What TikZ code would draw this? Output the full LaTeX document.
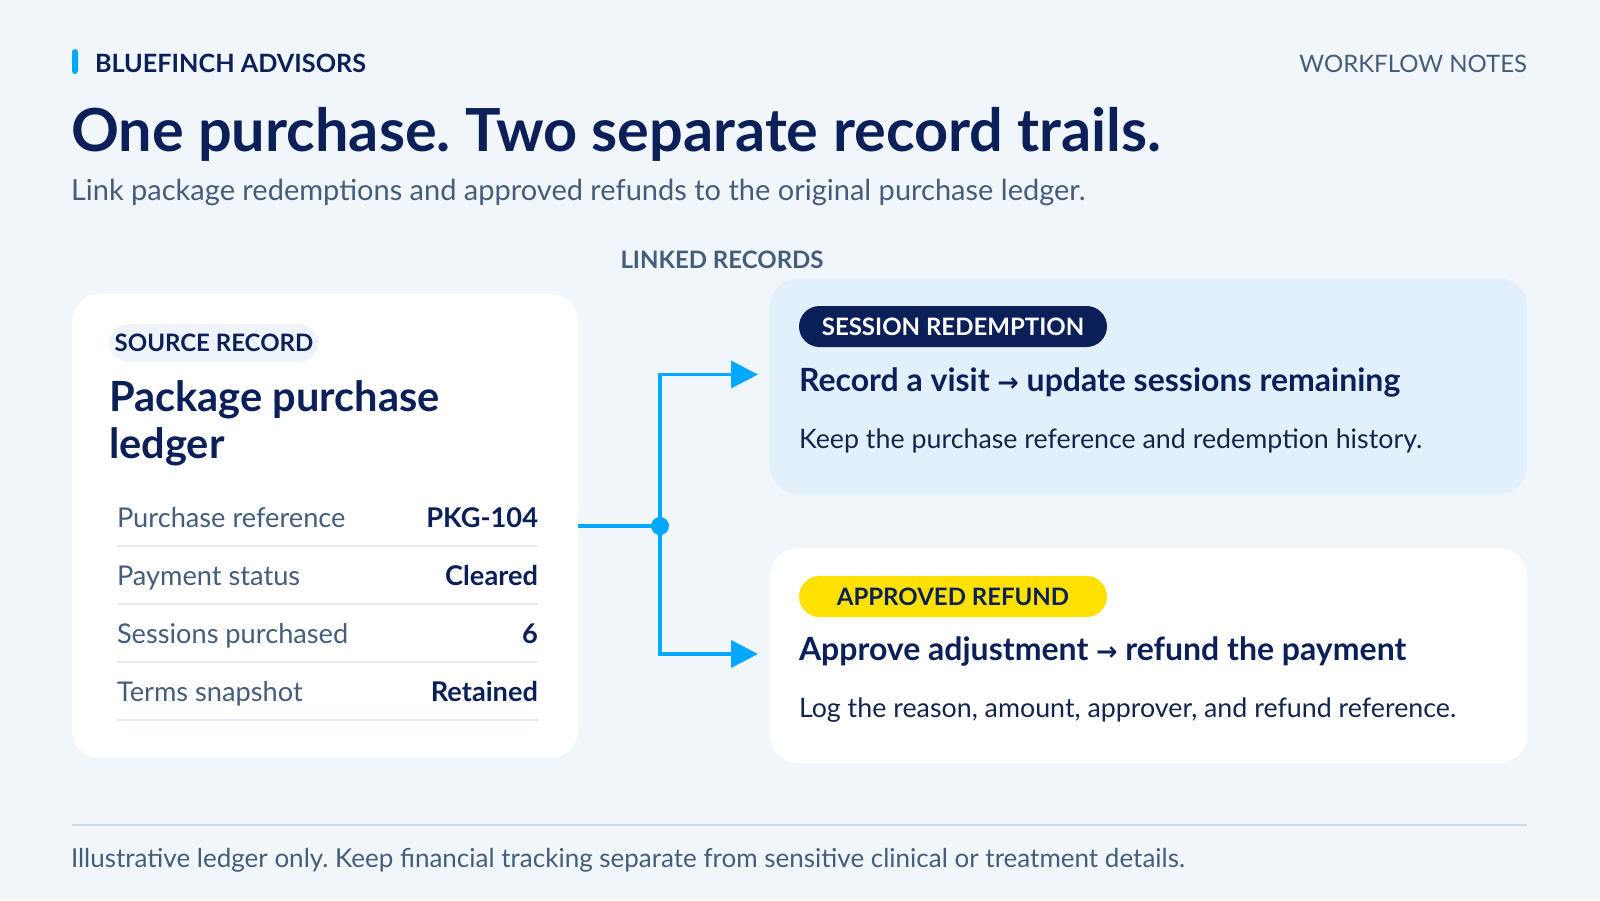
\documentclass[tikz,border=0pt]{standalone}
\usepackage{fontspec}
\setmainfont{Lato}
\newfontfamily\arrowfont{DejaVu Sans}
\usetikzlibrary{arrows.meta}
\definecolor{navy}{HTML}{0B2059}
\definecolor{slate}{HTML}{435D7A}
\definecolor{accent}{HTML}{00A8FF}
\definecolor{bg}{HTML}{F1F6FB}
\definecolor{cardblue}{HTML}{E2F0FC}
\definecolor{pilllight}{HTML}{EEF4FA}
\definecolor{sepline}{HTML}{E3ECF5}
\definecolor{pillyellow}{HTML}{FFE100}
\definecolor{rulecol}{HTML}{C9DCEC}
\definecolor{bodytext}{HTML}{14254D}
\newcommand{\fs}[1]{\fontsize{#1pt}{#1pt}\selectfont}
\newcommand{\arr}{{\arrowfont\scalebox{0.8}{→}}}
\frenchspacing
\begin{document}
\begin{tikzpicture}[x=0.5pt,y=-0.5pt,
  every node/.style={inner sep=0pt, outer sep=0pt},
  txt/.style={anchor=base west},
  card/.style={anchor=north west, rounded corners=14pt},
  pill/.style={rounded corners=10.25pt, minimum width=154pt, minimum height=20.5pt},
  conn/.style={draw=accent, line width=1.8pt},
  sep/.style={draw=sepline, line width=1pt},
  lbl/.style={anchor=base west, text=slate, font=\fs{13.6}},
  val/.style={anchor=base east, text=navy, font=\fs{13.6}\bfseries},
  ctitle/.style={anchor=base west, text=navy, font=\fs{16}\bfseries},
  cbody/.style={anchor=base west, text=bodytext, font=\fs{13.4}},
  pilltxt/.style={font=\fs{12}\bfseries}
]
\fill[bg] (0,0) rectangle (1600,900);
\useasboundingbox (0,0) rectangle (1600,900);

% header
\node[fill=accent, rounded corners=1.5pt, minimum width=3pt, minimum height=12.5pt, anchor=north west] (bar) at (72,49) {};
\node[txt, text=navy, font=\fs{12.6}\bfseries] (brand) at (95,72) {BLUEFINCH ADVISORS};
\node[anchor=base east, text=slate, font=\fs{12}] (notes) at (1527,72) {WORKFLOW NOTES};
\node[txt, text=navy, font=\fs{29.7}\bfseries] (title) at (71,151) {One purchase. Two separate record trails.};
\node[txt, text=slate, font=\fs{14.5}] (subtitle) at (71,200) {Link package redemptions and approved refunds to the original purchase ledger.};
\node[anchor=base, text=slate, font=\fs{12}\bfseries] (linked) at (722,268) {LINKED RECORDS};

% source card
\node[card, fill=white, minimum width=253pt, minimum height=232pt] (src) at (72,294) {};
\node[pill, fill=pilllight, minimum width=105pt, minimum height=19pt] (srcpill) at (214,343) {};
\node[pilltxt, text=navy] (srcpilltxt) at (srcpill) {SOURCE RECORD};
\node[txt, text=navy, font=\fs{20.8}\bfseries] (pkg1) at (109,411) {Package purchase};
\node[txt, text=navy, font=\fs{20.8}\bfseries] (pkg2) at (109,458) {ledger};

\node[lbl] (l1) at (117,527) {Purchase reference};
\node[val] (v1) at (538,527) {PKG-104};
\node[lbl] (l2) at (117,585) {Payment status};
\node[val] (v2) at (538,585) {Cleared};
\node[lbl] (l3) at (117,643) {Sessions purchased};
\node[val] (v3) at (538,643) {6};
\node[lbl] (l4) at (117,701) {Terms snapshot};
\node[val] (v4) at (538,701) {Retained};
\draw[sep] (117,546) -- (538,546);
\draw[sep] (117,604) -- (538,604);
\draw[sep] (117,662) -- (538,662);
\draw[sep] (117,720) -- (538,720);

% session card
\node[card, fill=cardblue, minimum width=378.5pt, minimum height=107.75pt] (sess) at (770,278.5) {};
\node[pill, fill=navy] (sesspill) at (953,326.5) {};
\node[pilltxt, text=white] (sesspilltxt) at (sesspill) {SESSION REDEMPTION};
\node[ctitle] (sesstitle) at (799,391) {Record a visit \arr{} update sessions remaining};
\node[cbody] (sessbody) at (799,448) {Keep the purchase reference and redemption history.};

% refund card
\node[card, fill=white, minimum width=378.5pt, minimum height=107.5pt] (ref) at (770,548) {};
\node[pill, fill=pillyellow] (refpill) at (953,596.5) {};
\node[pilltxt, text=navy] (refpilltxt) at (refpill) {APPROVED REFUND};
\node[ctitle] (reftitle) at (799,660) {Approve adjustment \arr{} refund the payment};
\node[cbody] (refbody) at (799,717) {Log the reason, amount, approver, and refund reference.};

% connectors
\coordinate (j) at (660,526);
\coordinate (t1) at (758,374.5);
\coordinate (t2) at (758,654);
\draw[conn] (src.east |- j) -- (j);
\draw[conn, -{Triangle[length=13.5pt, width=13.5pt]}] (j) |- (t1);
\draw[conn, -{Triangle[length=13.5pt, width=13.5pt]}] (j) |- (t2);
\fill[accent] (j) circle (4.5pt);

% footer
\draw[draw=rulecol, line width=1pt] (72,824.5) -- (1527,824.5);
\node[txt, text=slate, font=\fs{13}] (footer) at (71,867) {Illustrative ledger only. Keep financial tracking separate from sensitive clinical or treatment details.};
\end{tikzpicture}
\end{document}
